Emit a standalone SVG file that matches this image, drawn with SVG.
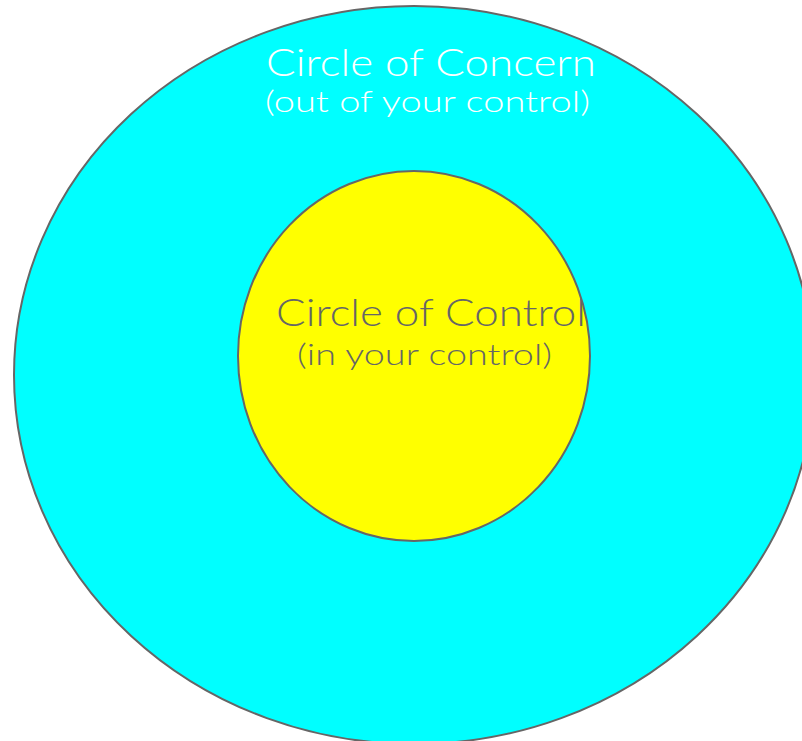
<svg xmlns="http://www.w3.org/2000/svg" width="802" height="741" viewBox="0 0 802 741">
<style>
.t{font-family:"Lato","Noto Sans",sans-serif;font-weight:300}
.w{fill:#ffffff}
.g{fill:#666666}
</style>
<rect width="802" height="741" fill="#ffffff"/>
<g id="concern">
<ellipse cx="414" cy="375" rx="400" ry="369" fill="#00ffff" stroke="#666666" stroke-width="2"/>
<text class="t w" x="266" y="76" font-size="37" textLength="330" lengthAdjust="spacingAndGlyphs">Circle of Concern</text>
<text class="t w" x="265" y="112" font-size="30" textLength="325" lengthAdjust="spacingAndGlyphs">(out of your control)</text>
</g>
<g id="control">
<ellipse cx="414" cy="356" rx="176" ry="185" fill="#ffff00" stroke="#666666" stroke-width="2"/>
<text class="t g" x="276" y="326" font-size="37" textLength="310" lengthAdjust="spacingAndGlyphs">Circle of Control</text>
<text class="t g" x="297" y="365" font-size="30" textLength="255" lengthAdjust="spacingAndGlyphs">(in your control)</text>
</g>
</svg>
